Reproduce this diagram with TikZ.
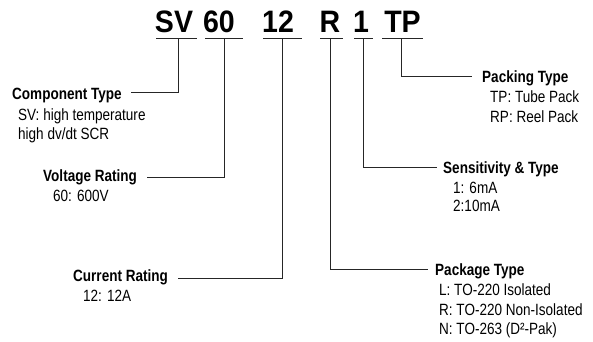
\documentclass[tikz,border=0pt]{standalone}
\usepackage{fontspec}
\setmainfont{Liberation Sans}[FakeStretch=0.83]
\newfontfamily\codefont{Liberation Sans}[FakeStretch=0.92]
\begin{document}
\begin{tikzpicture}[x=1pt,y=-1pt,
  code/.style={anchor=base,inner sep=0pt,font=\codefont\fontsize{31}{31}\selectfont\bfseries},
  ttl/.style={anchor=base west,inner sep=0pt,font=\fontsize{16.3}{18}\selectfont\bfseries},
  sub/.style={anchor=base west,inner sep=0pt,font=\fontsize{16.3}{18}\selectfont},
  ln/.style={line width=0.9pt,black!85}]
\useasboundingbox (0,0) rectangle (593,341);
% code letters
\node[code] (sv)  at (174,32) {SV};
\node[code] (n60) at (219,32) {60};
\node[code] (n12) at (278,32) {12};
\node[code] (r)   at (330,32) {R};
\node[code] (one) at (361,32) {1};
\node[code] (tp)  at (402.5,32) {TP};
% underlines
\coordinate (svL) at (156,38);  \coordinate (svR) at (197,38);
\coordinate (a60L) at (205,38); \coordinate (a60R) at (243,38);
\coordinate (a12L) at (263,38); \coordinate (a12R) at (302,38);
\coordinate (rL) at (320,38);   \coordinate (rR) at (343,38);
\coordinate (oL) at (354,38);   \coordinate (oR) at (373,38);
\coordinate (tpL) at (382,38);  \coordinate (tpR) at (423,38);
\foreach \a/\b in {svL/svR,a60L/a60R,a12L/a12R,rL/rR,oL/oR,tpL/tpR}
  \draw[ln] (\a) -- (\b);
% labels
\node[ttl] (ct) at (12,99) {Component Type};
\node[sub] (ct1) at (18,120) {SV: high temperature};
\node[sub] (ct2) at (18,139) {high dv/dt SCR};
\node[ttl] (vr) at (43,181.7) {Voltage Rating};
\node[sub] (vr1) at (53,201.7) {60: 600V};
\node[ttl] (cr) at (73,281.5) {Current Rating};
\node[sub] (cr1) at (83,301) {12: 12A};
\node[ttl] (pk) at (482,82.7) {Packing Type};
\node[sub] (pk1) at (490,102.7) {TP: Tube Pack};
\node[sub] (pk2) at (490,122.7) {RP: Reel Pack};
\node[ttl] (st) at (443,173.3) {Sensitivity \& Type};
\node[sub] (st1) at (453,193) {1: 6mA};
\node[sub] (st2) at (453,211) {2:10mA};
\node[ttl] (pt) at (435,275.7) {Package Type};
\node[sub] (pt1) at (439,295.7) {L: TO-220 Isolated};
\node[sub] (pt2) at (439,315) {R: TO-220 Non-Isolated};
\node[sub] (pt3) at (439,334) {N: TO-263 (D²-Pak)};
% connector ends
\coordinate (svT) at (178,38);  \coordinate (ctE) at (131,92);
\coordinate (v60T) at (224,38); \coordinate (vrE) at (147,177);
\coordinate (v12T) at (282,38); \coordinate (crE) at (178,278);
\coordinate (rT) at (330,38);   \coordinate (ptW) at (428,269);
\coordinate (oT) at (363,38);   \coordinate (stW) at (437,167);
\coordinate (tpT) at (401,38);  \coordinate (pkW) at (472,76);
\draw[ln] (svT) |- (ctE);
\draw[ln] (v60T) |- (vrE);
\draw[ln] (v12T) |- (crE);
\draw[ln] (rT) |- (ptW);
\draw[ln] (oT) |- (stW);
\draw[ln] (tpT) |- (pkW);
\end{tikzpicture}
\end{document}
